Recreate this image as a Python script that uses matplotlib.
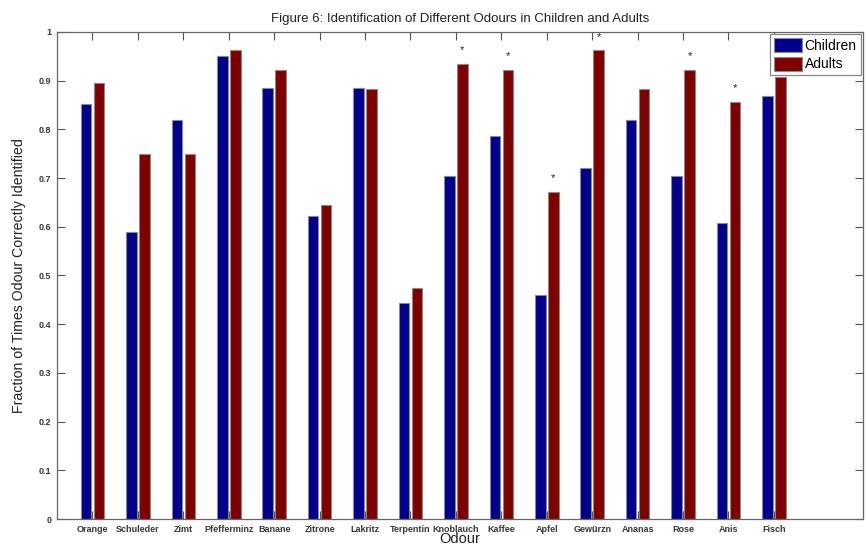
import numpy as np
import matplotlib
matplotlib.use("Agg")
import matplotlib.pyplot as plt

plt.rcParams['font.family'] = ['Liberation Sans', 'DejaVu Sans']

# Odour identification rates
odours = ["Orange", "Schuleder", "Zimt", "Pfefferminz", "Banane", "Zitrone",
          "Lakritz", "Terpentin", "Knoblauch", "Kaffee", "Apfel", "Gewürzn",
          "Ananas", "Rose", "Anis", "Fisch"]
children = [0.852, 0.590, 0.820, 0.951, 0.885, 0.623, 0.885, 0.443,
            0.705, 0.787, 0.459, 0.721, 0.820, 0.705, 0.607, 0.869]
adults = [0.895, 0.749, 0.749, 0.962, 0.922, 0.645, 0.882, 0.474,
          0.934, 0.922, 0.672, 0.962, 0.882, 0.922, 0.856, 0.908]
# significant differences
starred = ["Knoblauch", "Kaffee", "Apfel", "Gewürzn", "Rose", "Anis"]

x = np.arange(1, len(odours) + 1)
w = 0.233
off = 0.143

fig = plt.figure(figsize=(8.66, 5.45), dpi=100)
ax = fig.add_axes([0.0658, 0.0477, 0.9307, 0.8936])

ax.bar(x - off, children, w, color='#00008F', edgecolor='#8a8a8a', linewidth=0.8,
       label='Children')
ax.bar(x + off, adults, w, color='#800000', edgecolor='#8a8a8a', linewidth=0.8,
       label='Adults')

for i, name in enumerate(odours):
    if name in starred:
        ax.text(x[i] + off, adults[i] + 0.018, '*', ha='center', va='bottom',
                fontsize=8, color='#222222')

ax.set_xlim(0.219, 17.96)
ax.set_ylim(0, 1)
ax.set_xticks(x)
ax.set_xticklabels(odours, fontsize=6.5, fontweight='bold', color='#383838')
yt = np.round(np.arange(0, 1.01, 0.1), 1)
ax.set_yticks(yt)
ax.set_yticklabels(['0'] + ['%.1f' % v for v in yt[1:-1]] + ['1'],
                   fontsize=6.5, fontweight='bold', color='#383838')
ax.tick_params(direction='in', length=6, width=0.8, color='#555555',
               top=True, right=True, pad=4)
for s in ax.spines.values():
    s.set_color('#666666')
    s.set_linewidth(0.9)

ax.set_title("Figure 6: Identification of Different Odours in Children and Adults",
             fontsize=9.5, color='#222222', pad=7)
ax.set_xlabel("Odour", fontsize=10.5, color='#222222', labelpad=-1)
ax.set_ylabel("Fraction of Times Odour Correctly Identified", fontsize=10.2,
              color='#222222', labelpad=9)

leg = ax.legend(loc='upper right', fontsize=10, frameon=True, fancybox=False,
                borderaxespad=0.15, handlelength=2.0, handleheight=1.2,
                handletextpad=0.2, borderpad=0.3, labelspacing=0.25,
                framealpha=1)
leg.get_frame().set_edgecolor('#888888')
leg.get_frame().set_linewidth(0.9)

fig.savefig("out.png", dpi=100)
